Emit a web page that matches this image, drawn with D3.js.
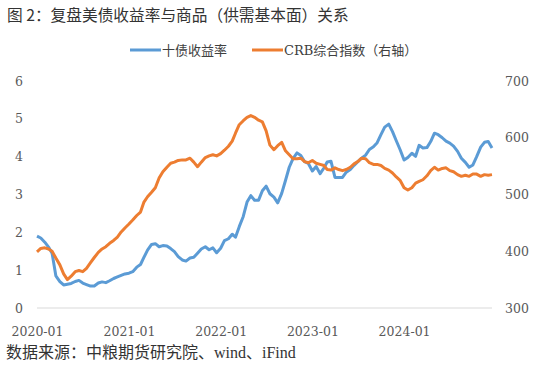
<!DOCTYPE html>
<html>
<head>
<meta charset="utf-8">
<script src="https://cdn.jsdelivr.net/npm/d3@7"></script>
<style>
  body { margin: 0; background: #fff; }
  svg text { fill: #595959; }
  .tick text { font-family: "DejaVu Serif", "Liberation Serif", serif; font-size: 12.5px; }
</style>
</head>
<body>
<div id="chart"></div>
<script>

  // semi-monthly points, 2020-01-01 .. 2024-12-16
  var startDate = "2020-01-01";

  var yield10y = [
    1.90, 1.85, 1.74, 1.61, 1.45, 0.85, 0.70, 0.61, 0.63, 0.65,
    0.70, 0.73, 0.66, 0.62, 0.58, 0.58, 0.66, 0.69, 0.67, 0.72,
    0.78, 0.82, 0.86, 0.90, 0.92, 0.96, 1.08, 1.15, 1.33, 1.53,
    1.68, 1.70, 1.62, 1.65, 1.64, 1.57, 1.49, 1.36, 1.27, 1.24,
    1.32, 1.34, 1.45, 1.56, 1.62, 1.54, 1.59, 1.46, 1.58, 1.78,
    1.83, 1.95, 1.87, 2.15, 2.42, 2.80, 2.97, 2.85, 2.85, 3.10,
    3.22, 3.02, 2.93, 2.78, 3.03, 3.37, 3.72, 3.95, 4.10, 4.03,
    3.87, 3.82, 3.62, 3.74, 3.55, 3.70, 3.86, 3.88, 3.45, 3.45,
    3.45, 3.59, 3.66, 3.77, 3.87, 3.96, 4.04, 4.19, 4.26, 4.37,
    4.58, 4.78, 4.86, 4.66, 4.42, 4.19, 3.91, 3.98, 4.09, 4.01,
    4.30, 4.23, 4.24, 4.40, 4.62, 4.58, 4.50, 4.41, 4.36, 4.28,
    4.14, 3.96, 3.85, 3.72, 3.78, 4.00, 4.25, 4.38, 4.40, 4.23
  ];

  var crbIndex = [
    399, 405, 406, 404, 400, 388, 376, 360, 350, 356,
    364, 366, 364, 370, 380, 389, 398, 404, 408, 414,
    419, 425, 434, 441, 448, 455, 463, 469, 486, 496,
    504, 512, 529, 540, 548, 555, 557, 560, 561, 561,
    564, 557, 549, 557, 565, 568, 570, 568, 572, 578,
    585, 594, 608, 623, 630, 636, 639, 636, 631, 628,
    612, 587, 579, 586, 592, 577, 570, 563, 563, 564,
    558, 556, 560, 555, 553, 551, 544, 543, 547, 544,
    542, 544, 548, 554, 558, 564, 563, 556, 553, 553,
    551, 546, 543, 538, 531, 525, 512, 508, 512, 520,
    523, 526, 533, 542, 548, 543, 546, 547, 542, 540,
    535, 532, 534, 532, 536, 536, 532, 535, 534, 535
  ];

  var leftTicks = [0, 1, 2, 3, 4, 5, 6];
  var rightTicks = [300, 400, 500, 600, 700];
  var xTickLabels = ["2020-01", "2021-01", "2022-01", "2023-01", "2024-01"];

  var seriesNames = ["十债收益率", "CRB综合指数（右轴）"];
  var color = ["#5b9bd5", "#ed7d31"];

  var titleText = "图 2：复盘美债收益率与商品（供需基本面）关系";
  var sourceText = "数据来源：中粮期货研究院、wind、iFind";

  var width = 550, height = 374;
  var margin = { top: 81, right: 58, bottom: 66, left: 37 };

  var parse = d3.timeParse("%Y-%m-%d");
  var fmt = d3.timeFormat("%Y-%m");
  var t0 = parse(startDate);

  // dates: 1st and 16th of each month
  var dates = yield10y.map(function(d, i) {
    var m = d3.timeMonth.offset(t0, Math.floor(i / 2));
    return i % 2 ? d3.timeDay.offset(m, 15) : m;
  });

  var svg = d3.select("#chart").append("svg")
      .attr("width", width)
      .attr("height", height);

  var x = d3.scaleTime()
      .domain(d3.extent(dates))
      .range([margin.left, width - margin.right]);

  var yL = d3.scaleLinear()
      .domain([0, 6])
      .range([height - margin.bottom, margin.top]);

  var yR = d3.scaleLinear()
      .domain([300, 700])
      .range([height - margin.bottom, margin.top]);

  // title
  svg.append("text")
      .attr("x", 7)
      .attr("y", 21)
      .style("font-family", "'Noto Sans CJK SC', sans-serif")
      .style("font-size", "15.7px")
      .style("fill", "#333")
      .text(titleText);

  // baseline
  svg.append("line")
      .attr("x1", x.range()[0])
      .attr("x2", x.range()[1])
      .attr("y1", yL(0))
      .attr("y2", yL(0))
      .attr("stroke", "#d9d9d9")
      .attr("stroke-width", 1);

  // axes
  var leftAxis = svg.append("g")
      .attr("transform", "translate(" + 23 + ",0)")
      .call(d3.axisLeft(yL).tickValues(leftTicks).tickSize(0).tickPadding(0).tickFormat(d3.format("d")));

  var rightAxis = svg.append("g")
      .attr("transform", "translate(" + 505 + ",0)")
      .call(d3.axisRight(yR).tickValues(rightTicks).tickSize(0).tickPadding(0));

  var xTicks = xTickLabels.map(function(s) { return parse(s + "-01"); });
  var bottomAxis = svg.append("g")
      .attr("transform", "translate(0," + (height - margin.bottom) + ")")
      .call(d3.axisBottom(x).tickValues(xTicks).tickSize(0).tickPadding(19).tickFormat(fmt));

  [leftAxis, rightAxis, bottomAxis].forEach(function(g) {
    g.select(".domain").remove();
  });

  // lines
  var lineL = d3.line()
      .x(function(d, i) { return x(dates[i]); })
      .y(function(d) { return yL(d); });

  var lineR = d3.line()
      .x(function(d, i) { return x(dates[i]); })
      .y(function(d) { return yR(d); });

  svg.append("path")
      .datum(yield10y)
      .attr("fill", "none")
      .attr("stroke", color[0])
      .attr("stroke-width", 3)
      .attr("stroke-linejoin", "round")
      .attr("d", lineL);

  svg.append("path")
      .datum(crbIndex)
      .attr("fill", "none")
      .attr("stroke", color[1])
      .attr("stroke-width", 3)
      .attr("stroke-linejoin", "round")
      .attr("d", lineR);

  // legend
  var legendX = [130, 252];
  var legend = svg.append("g")
      .selectAll("g")
      .data(seriesNames)
      .enter().append("g")
      .attr("transform", function(d, i) { return "translate(" + legendX[i] + ",50)"; });

  legend.append("line")
      .attr("x1", 0)
      .attr("x2", 31)
      .attr("stroke", function(d, i) { return color[i]; })
      .attr("stroke-width", 3);

  legend.append("text")
      .attr("x", 32)
      .attr("dy", "0.35em")
      .style("font-family", "'DejaVu Serif', 'Noto Sans CJK SC', serif")
      .style("font-size", "13px")
      .style("fill", "#404040")
      .text(function(d) { return d; });

  // source
  svg.append("text")
      .attr("x", 6)
      .attr("y", 358)
      .style("font-family", "'Liberation Serif', 'Noto Sans CJK SC', serif")
      .style("font-size", "16px")
      .style("fill", "#333")
      .text(sourceText);

</script>
</body>
</html>
